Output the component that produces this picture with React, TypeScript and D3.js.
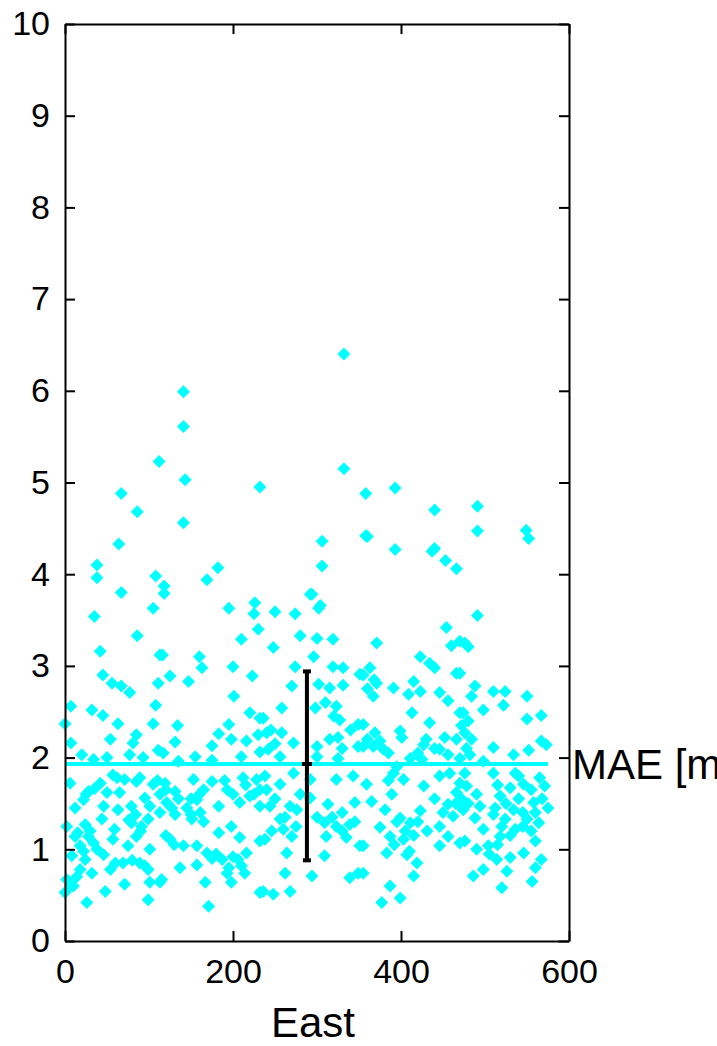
import React, { useEffect, useRef } from 'react';
import * as d3 from 'd3';

// scatter samples: [east, error]
const samples: [number, number][] = [
  // upper sparse points
  [141, 5.99], [141, 5.61], [112, 5.23], [143, 5.03], [67, 4.88], [232, 4.95], [86, 4.68], [141, 4.56],
  [64, 4.33], [38, 4.1], [38, 3.96], [67, 3.8], [108, 3.98], [118, 3.87], [118, 3.79], [169, 3.94],
  [182, 4.07], [105, 3.63], [35, 3.54], [195, 3.63], [226, 3.69], [225, 3.57], [250, 3.59], [274, 3.57],
  [292, 3.78], [332, 6.4], [332, 5.15], [358, 4.88], [393, 4.94], [440, 4.7], [491, 4.74], [491, 4.47],
  [549, 4.48], [552, 4.39], [306, 4.36], [306, 4.09], [358, 4.42], [360, 4.41], [393, 4.27], [437, 4.25],
  [440, 4.28], [453, 4.15], [466, 4.06], [294, 3.78], [304, 3.66], [491, 3.55],
  // 0 - 115
  [86, 3.33], [42, 3.16], [113, 3.12], [45, 2.9], [56, 2.81], [67, 2.78], [77, 2.71], [111, 2.81],
  [7, 2.56], [32, 2.52], [45, 2.46], [108, 2.57], [0, 2.37], [63, 2.37], [105, 2.37], [54, 2.2],
  [7, 2.16], [85, 2.25], [81, 2.16], [111, 2.08], [20, 2.03], [34, 1.98], [50, 2.0], [77, 2.03],
  [93, 2.0], [6, 1.72], [57, 1.81], [42, 1.72], [71, 1.76], [89, 1.78], [105, 1.71], [28, 1.63],
  [22, 1.54], [50, 1.62], [65, 1.62], [95, 1.56], [12, 1.45], [46, 1.47], [63, 1.43], [79, 1.47],
  [101, 1.47], [113, 1.4], [2, 1.25], [24, 1.27], [44, 1.33], [59, 1.22], [79, 1.29], [91, 1.25],
  [99, 1.33], [12, 1.14], [28, 1.14], [57, 1.11], [85, 1.14], [18, 1.04], [34, 1.07], [75, 1.04],
  [101, 1.0], [8, 0.93], [24, 0.89], [46, 0.94], [69, 0.85], [89, 0.85], [99, 0.78], [54, 0.78],
  [18, 0.78], [32, 0.74], [2, 0.67], [10, 0.6], [71, 0.62], [48, 0.54], [101, 0.64], [113, 0.64],
  [99, 0.45], [26, 0.42], [0, 0.53],
  [15, 1.18], [30, 1.2], [38, 1.0], [22, 0.98], [84, 1.38], [90, 1.2], [76, 1.32], [6, 0.6], [14, 0.7],
  [60, 0.85], [80, 0.88], [95, 0.82], [25, 1.6], [35, 1.66], [62, 1.78], [85, 1.74], [110, 1.75],
  // 115 - 235
  [230, 3.4], [210, 3.29], [116, 3.12], [160, 3.1], [163, 2.98], [200, 2.99], [125, 2.89], [147, 2.83],
  [223, 2.89], [201, 2.67], [220, 2.49], [232, 2.43], [134, 2.35], [195, 2.36], [183, 2.26], [131, 2.17],
  [198, 2.2], [216, 2.18], [175, 2.13], [230, 2.25], [117, 2.05], [155, 2.01], [232, 2.06], [135, 1.96],
  [175, 1.97], [210, 2.01], [119, 1.72], [153, 1.76], [175, 1.74], [212, 1.78], [228, 1.76], [131, 1.63],
  [165, 1.65], [193, 1.65], [220, 1.58], [121, 1.51], [157, 1.54], [183, 1.47], [208, 1.51], [232, 1.47],
  [131, 1.38], [161, 1.4], [151, 1.33], [198, 1.25], [183, 1.18], [208, 1.13], [232, 1.09], [125, 1.11],
  [141, 1.04], [157, 1.04], [169, 0.96], [187, 0.89], [206, 0.89], [216, 0.96], [137, 0.8], [157, 0.83],
  [193, 0.74], [214, 0.74], [115, 0.67], [167, 0.64], [198, 0.64], [232, 0.53], [171, 0.38],
  [113, 1.6], [120, 1.65], [127, 1.45], [135, 1.55], [145, 1.45], [150, 1.55], [160, 1.6], [165, 1.3],
  [150, 1.38], [175, 0.9], [180, 0.95], [195, 0.8], [200, 0.92], [210, 0.82], [120, 1.15], [130, 1.05],
  [190, 1.75], [200, 1.6], [215, 1.7], [225, 1.6], [232, 1.65],
  // 235 - 355
  [302, 3.63], [280, 3.33], [300, 3.3], [319, 3.29], [248, 3.2], [296, 3.1], [274, 2.99], [319, 2.99],
  [331, 2.98], [351, 2.91], [270, 2.78], [302, 2.8], [315, 2.76], [331, 2.79], [258, 2.54], [298, 2.54],
  [323, 2.56], [236, 2.43], [327, 2.41], [349, 2.36], [258, 2.27], [240, 2.27], [272, 2.16], [300, 2.12],
  [315, 2.2], [325, 2.22], [349, 2.12], [242, 2.09], [256, 2.01], [300, 2.01], [325, 1.99], [238, 1.8],
  [256, 1.71], [272, 1.83], [292, 1.76], [323, 1.76], [343, 1.8], [244, 1.47], [268, 1.47], [292, 1.56],
  [313, 1.49], [345, 1.51], [276, 1.43], [256, 1.33], [309, 1.29], [323, 1.25], [339, 1.27], [238, 1.11],
  [260, 1.22], [270, 1.14], [311, 1.14], [335, 1.13], [351, 1.04], [264, 0.96], [309, 0.93], [262, 0.74],
  [294, 0.71], [339, 0.69], [349, 0.74], [236, 0.54], [248, 0.51], [268, 0.54],
  [240, 1.65], [250, 1.55], [262, 1.35], [275, 1.25], [246, 1.2], [280, 1.6], [300, 1.35], [318, 1.35],
  [330, 1.2], [345, 1.3], [330, 1.4], [245, 2.3], [250, 2.15], [310, 2.6], [320, 2.45], [340, 2.3], [330, 2.1],
  // 355 - 470
  [454, 3.42], [371, 3.25], [460, 3.22], [470, 3.27], [423, 3.1], [434, 3.03], [440, 2.98], [363, 2.98],
  [466, 2.92], [355, 2.9], [371, 2.81], [391, 2.76], [415, 2.83], [367, 2.67], [409, 2.69], [423, 2.72],
  [446, 2.71], [456, 2.62], [413, 2.49], [470, 2.49], [355, 2.36], [434, 2.38], [399, 2.29], [369, 2.27],
  [452, 2.22], [466, 2.2], [401, 2.22], [355, 2.12], [367, 2.12], [379, 2.09], [427, 2.14], [446, 2.09],
  [456, 2.03], [411, 1.99], [425, 1.98], [470, 1.99], [391, 1.83], [403, 1.76], [359, 1.71], [446, 1.8],
  [458, 1.83], [427, 1.69], [470, 1.72], [389, 1.6], [466, 1.62], [365, 1.52], [381, 1.43], [456, 1.49],
  [470, 1.47], [423, 1.42], [399, 1.34], [411, 1.29], [462, 1.36], [375, 1.24], [446, 1.25], [431, 1.2],
  [456, 1.14], [355, 1.04], [387, 1.14], [403, 1.11], [446, 1.04], [470, 1.07], [383, 0.96], [407, 0.94],
  [419, 0.85], [355, 0.74], [415, 0.71], [387, 0.6], [399, 0.47], [377, 0.42],
  [395, 1.3], [405, 1.2], [415, 1.15], [392, 1.05], [420, 1.3], [410, 0.98], [360, 2.2], [375, 2.18],
  [385, 2.05], [420, 2.05], [440, 2.1], [430, 2.2], [360, 2.75], [368, 2.85], [440, 1.55], [450, 1.4],
  [465, 1.5], [385, 1.75], [395, 1.9],
  // 470 - 575
  [476, 3.25], [480, 3.21], [470, 2.92], [488, 2.78], [484, 2.67], [510, 2.72], [524, 2.72], [522, 2.57],
  [498, 2.52], [550, 2.67], [550, 2.42], [567, 2.46], [474, 2.49], [480, 2.4], [476, 2.27], [484, 2.2],
  [567, 2.18], [573, 2.14], [510, 2.11], [552, 2.08], [534, 2.03], [482, 2.03], [498, 1.96], [476, 1.83],
  [510, 1.83], [536, 1.83], [565, 1.78], [478, 1.69], [571, 1.69], [530, 1.67], [546, 1.71], [518, 1.58],
  [494, 1.47], [558, 1.51], [575, 1.45], [474, 1.43], [534, 1.43], [510, 1.38], [488, 1.34], [524, 1.33],
  [550, 1.33], [564, 1.29], [498, 1.22], [536, 1.22], [518, 1.14], [476, 1.09], [560, 1.09], [504, 1.04],
  [546, 0.96], [514, 0.89], [530, 0.91], [567, 0.89], [560, 0.8], [498, 0.78], [486, 0.71], [526, 0.76],
  [556, 0.65], [520, 0.58],
  [515, 1.7], [525, 1.5], [540, 1.55], [545, 1.4], [555, 1.65], [560, 1.4], [568, 1.55], [520, 1.25],
  [530, 1.15], [545, 1.25], [555, 1.2], [512, 1.45], [540, 1.8], [472, 1.55], [480, 1.5], [490, 1.6],
  [490, 1.0], [505, 0.95], [515, 1.05], [472, 2.35], [478, 2.1],
];

const maeValue = 1.93;
const errorBar = { east: 288, low: 0.88, high: 2.94 };
const xTicks = [0, 200, 400, 600];
const yTicks = [0, 1, 2, 3, 4, 5, 6, 7, 8, 9, 10];

const App = () => {
  const svgRef = useRef<SVGSVGElement>(null);

  useEffect(() => {
    const svg = d3.select(svgRef.current);
    svg.selectAll('*').remove();

    const left = 65, right = 569, top = 24, bottom = 941;
    const x = d3.scaleLinear().domain([0, 600]).range([left, right]);
    const y = d3.scaleLinear().domain([0, 10]).range([bottom, top]);

    svg.append('rect').attr('width', 717).attr('height', 1046).attr('fill', 'white');

    // points
    const diamond = 'M0,-6.5L6.5,0L0,6.5L-6.5,0Z';
    svg.append('g')
      .selectAll('path')
      .data(samples)
      .enter()
      .append('path')
      .attr('d', diamond)
      .attr('transform', d => `translate(${x(d[0])},${y(d[1])})`)
      .attr('fill', '#00ffff');

    // mean line
    const eastMax = d3.max(samples, d => d[0]) as number;
    svg.append('line')
      .attr('x1', x(0)).attr('x2', x(eastMax))
      .attr('y1', y(maeValue)).attr('y2', y(maeValue))
      .attr('stroke', '#00ffff').attr('stroke-width', 4);

    // error bar
    const eb = svg.append('g').attr('stroke', 'black').attr('stroke-width', 4);
    eb.append('line')
      .attr('x1', x(errorBar.east)).attr('x2', x(errorBar.east))
      .attr('y1', y(errorBar.low)).attr('y2', y(errorBar.high));
    [errorBar.low, errorBar.high].forEach(v => {
      eb.append('line')
        .attr('x1', x(errorBar.east) - 4).attr('x2', x(errorBar.east) + 4)
        .attr('y1', y(v)).attr('y2', y(v));
    });
    eb.append('line')
      .attr('x1', x(errorBar.east) - 5).attr('x2', x(errorBar.east) + 5)
      .attr('y1', y(maeValue)).attr('y2', y(maeValue));

    // axes with inward ticks on all sides
    const font = 'Liberation Sans, Arial, sans-serif';
    const styleAxis = (g: any) => {
      g.selectAll('path, line').attr('stroke', 'black').attr('stroke-width', 2);
      g.selectAll('text').attr('fill', 'black').style('font-family', font).style('font-size', '34px');
    };

    svg.append('g')
      .attr('transform', `translate(0,${bottom})`)
      .call(d3.axisBottom(x).tickValues(xTicks).tickSize(-10).tickSizeOuter(0).tickPadding(18))
      .call(styleAxis);
    svg.append('g')
      .attr('transform', `translate(0,${top})`)
      .call(d3.axisTop(x).tickValues(xTicks).tickSize(-10).tickSizeOuter(0).tickFormat(() => ''))
      .call(styleAxis);
    svg.append('g')
      .attr('transform', `translate(${left},0)`)
      .call(d3.axisLeft(y).tickValues(yTicks).tickSize(-10).tickSizeOuter(0).tickPadding(15))
      .call(styleAxis);
    svg.append('g')
      .attr('transform', `translate(${right},0)`)
      .call(d3.axisRight(y).tickValues(yTicks).tickSize(-10).tickSizeOuter(0).tickFormat(() => ''))
      .call(styleAxis);

    // labels
    svg.append('text')
      .attr('x', (left + right) / 2 - 4)
      .attr('y', 1037)
      .attr('text-anchor', 'middle')
      .style('font-family', font)
      .style('font-size', '42px')
      .text('East');

    // the reference cuts this label at the right edge of the figure
    svg.append('text')
      .attr('x', right + 3)
      .attr('y', y(maeValue))
      .attr('dy', '0.35em')
      .style('font-family', font)
      .style('font-size', '42px')
      .text('MAE [m]');
  }, []);

  return (
    <svg
      ref={svgRef}
      width={717}
      height={1046}
      style={{ position: 'absolute', left: 0, top: 0, display: 'block' }}
    />
  );
};

export default App;
